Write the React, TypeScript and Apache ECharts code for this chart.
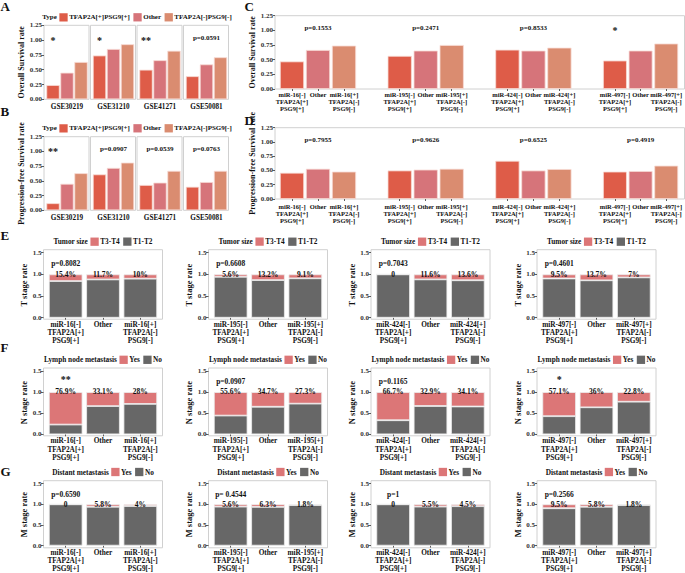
import React, { useEffect, useRef } from "react";
import * as echarts from "echarts";

const FONT = "'Liberation Serif', 'Times New Roman', Times, serif";
const INK = "#111111";
const TICK_INK = "#333333";
const FRAME = "#d0d0d0";
const TYPE_COLORS = ["#DE5C48", "#D6747A", "#DA8C70"];
const YES_COLOR = "#DC7677";
const NO_COLOR = "#676767";
const WARM_EDGE = "#f7dcd5";
const GREY_EDGE = "#ececec";

// ---- Panels A / B : GEO cohorts ----
const gseCohorts = ["GSE30219", "GSE31210", "GSE41271", "GSE50081"];
const typeNames = ["TFAP2A[+]PSG9[+]", "Other", "TFAP2A[-]PSG9[-]"];
const osGse = [
  [0.24, 0.45, 0.63],
  [0.74, 0.85, 0.93],
  [0.5, 0.66, 0.82],
  [0.39, 0.59, 0.71],
];
const pfsGse = [
  [0.12, 0.45, 0.63],
  [0.61, 0.72, 0.81],
  [0.43, 0.47, 0.67],
  [0.4, 0.48, 0.67],
];
const osGseSig = ["*", "*", "**", "p=0.0591"];
const pfsGseSig = ["**", "p=0.0907", "p=0.0539", "p=0.0763"];

// ---- Panels C / D : miRNA groups ----
const mirs = ["miR-16", "miR-195", "miR-424", "miR-497"];
const osMir = [
  [0.47, 0.665, 0.74],
  [0.565, 0.655, 0.75],
  [0.67, 0.655, 0.705],
  [0.485, 0.655, 0.775],
];
const pfsMir = [
  [0.46, 0.53, 0.48],
  [0.5, 0.515, 0.53],
  [0.67, 0.5, 0.525],
  [0.48, 0.49, 0.585],
];
const osMirSig = ["p=0.1553", "p=0.2471", "p=0.8533", "*"];
const pfsMirSig = ["p=0.7955", "p=0.9626", "p=0.6525", "p=0.4919"];

// ---- Panels E / F / G : clinical stage (percentage "Yes") ----
const tStageT3T4 = [
  [15.4, 11.7, 10],
  [5.6, 13.2, 9.1],
  [0, 11.6, 13.6],
  [9.5, 13.7, 7],
];
const nStageYes = [
  [76.9, 33.1, 28],
  [55.6, 34.7, 27.3],
  [66.7, 32.9, 34.1],
  [57.1, 36, 22.8],
];
const mStageYes = [
  [0, 5.8, 4],
  [5.6, 6.3, 1.8],
  [0, 5.5, 4.5],
  [9.5, 5.8, 1.8],
];
const tStageP = ["p=0.8082", "p=0.6608", "p=0.7043", "p=0.4601"];
const nStageP = ["**", "p=0.0907", "p=0.1165", "*"];
const mStageP = ["p=0.6590", "p= 0.4544", "p=1", "p=0.2566"];

type Any = any;

function measure(text: string, size: number): number {
  const ctx = document.createElement("canvas").getContext("2d");
  if (!ctx) return text.length * size * 0.5;
  ctx.font = `bold ${size}px ${FONT}`;
  return ctx.measureText(text).width;
}

function mirCats(m: string) {
  return [`${m}[-]\nTFAP2A[+]\nPSG9[+]`, "Other", `${m}[+]\nTFAP2A[-]\nPSG9[-]`];
}

function buildOption() {
  const grid: Any[] = [];
  const xAxis: Any[] = [];
  const yAxis: Any[] = [];
  const series: Any[] = [];
  const graphic: Any[] = [];

  const txt = (size: number, color = INK) => ({
    fontFamily: FONT,
    fontWeight: "bold",
    fontSize: size,
    color,
  });

  // label centred on its data point: placed "top" with a negative distance
  const centeredLabel = (size: number, formatter: Any) => ({
    show: true,
    position: "top",
    distance: -size / 2,
    formatter,
    ...txt(size),
    textBorderWidth: 0,
    textShadowBlur: 0,
  });

  const addGrid = (g: Any, x: Any, y: Any) => {
    grid.push({ containLabel: false, ...g });
    const i = grid.length - 1;
    xAxis.push({ gridIndex: i, ...x });
    yAxis.push({ gridIndex: i, ...y });
    return i;
  };

  const frame = (x: number, y: number, w: number, h: number) =>
    graphic.push({
      type: "rect",
      z: 0,
      silent: true,
      shape: { x, y, width: w, height: h },
      style: { fill: "none", stroke: FRAME, lineWidth: 1 },
    });

  const gText = (x: number, y: number, text: string, size: number) =>
    graphic.push({
      type: "text",
      z: 10,
      silent: true,
      x,
      y,
      style: {
        text,
        fontFamily: FONT,
        fontWeight: "bold",
        fontSize: size,
        fill: INK,
        align: "left",
        verticalAlign: "middle",
      },
    });

  const legend = (cx: number, cy: number, title: string, names: string[], colors: string[], fs: number) => {
    const sq = 8.3;
    const tw = measure(title, fs);
    const ws = names.map((n) => measure(n, fs));
    let total = tw;
    ws.forEach((w, k) => {
      total += (k === 0 ? 2.5 : 3.5) + sq + 1.5 + w;
    });
    let x = cx - total / 2;
    gText(x, cy, title, fs);
    x += tw;
    names.forEach((n, k) => {
      x += k === 0 ? 2.5 : 3.5;
      graphic.push({
        type: "rect",
        z: 10,
        silent: true,
        shape: { x, y: cy - sq / 2, width: sq, height: sq },
        style: { fill: colors[k] },
      });
      x += sq + 1.5;
      gText(x, cy, n, fs);
      x += ws[k];
    });
  };

  const yCfg = (
    show: boolean,
    max: number,
    interval: number,
    decimals: number,
    name: string,
    nameGap: number,
    offset: number,
    nameSize: number
  ) => ({
    type: "value",
    min: 0,
    max,
    interval,
    offset,
    splitLine: { show: false },
    axisLine: { show: false },
    axisTick: { show, length: 2.5, lineStyle: { color: TICK_INK, width: 0.8 } },
    axisLabel: {
      show,
      margin: 2,
      formatter: (v: number) => v.toFixed(decimals),
      ...txt(7, TICK_INK),
    },
    name: show ? name : "",
    nameLocation: "middle",
    nameGap,
    nameRotate: 90,
    nameTextStyle: txt(nameSize),
  });

  const annot = (gi: number, x: number, y: number, text: string, size: number) =>
    series.push({
      type: "scatter",
      xAxisIndex: gi,
      yAxisIndex: gi,
      data: [[x, y]],
      symbolSize: 0.1,
      itemStyle: { color: INK, opacity: 1 },
      silent: true,
      z: 6,
      label: centeredLabel(size, () => text),
    });

  // ---------- A / B ----------
  const gsePanel = (values: number[][], sigs: string[], top: number, height: number, yName: string) => {
    values.forEach((vals, i) => {
      const fx = 44 + i * 46.5;
      frame(fx, top, 45, height);
      const gi = addGrid(
        { left: fx + 2, top, width: 42, height },
        {
          type: "category",
          data: typeNames,
          axisLine: { show: false },
          axisTick: { show: false },
          axisLabel: { show: false },
          name: gseCohorts[i],
          nameLocation: "middle",
          nameGap: 4,
          nameTextStyle: txt(7.2),
        },
        yCfg(i === 0, 1.25, 0.25, 2, yName, 18, 2, 8)
      );
      series.push({
        type: "bar",
        xAxisIndex: gi,
        yAxisIndex: gi,
        barCategoryGap: "5%",
        silent: true,
        itemStyle: { borderColor: WARM_EDGE, borderWidth: 0.8 },
        data: vals.map((v, k) => ({ value: v, itemStyle: { color: TYPE_COLORS[k] } })),
      });
      const s = sigs[i];
      const isP = s.startsWith("p");
      annot(gi, isP ? 1 : 0, isP ? 1.04 : 1.0, s, isP ? 7 : 10);
    });
  };

  // ---------- C / D ----------
  const mirPanel = (
    values: number[][],
    sigs: string[],
    top: number,
    height: number,
    yName: string,
    labelMargin: number
  ) => {
    frame(275, top, 409.5, height);
    values.forEach((vals, i) => {
      const gx = 279 + i * 107.7;
      const gi = addGrid(
        { left: gx, top, width: 78, height },
        {
          type: "category",
          data: mirCats(mirs[i]),
          axisLine: { show: false },
          axisTick: { show: true, length: 2, alignWithLabel: true, lineStyle: { color: TICK_INK, width: 0.8 } },
          axisLabel: { interval: 0, margin: labelMargin, lineHeight: 6.9, ...txt(6.5) },
        },
        yCfg(i === 0, 1.25, 0.25, 2, yName, 13.5, 4, 8)
      );
      series.push({
        type: "bar",
        xAxisIndex: gi,
        yAxisIndex: gi,
        barCategoryGap: "7%",
        silent: true,
        itemStyle: { borderColor: WARM_EDGE, borderWidth: 0.8 },
        data: vals.map((v, k) => ({ value: v, itemStyle: { color: TYPE_COLORS[k] } })),
      });
      const s = sigs[i];
      const isP = s.startsWith("p");
      annot(gi, isP ? 1 : 0, isP ? 1.04 : 1.0, s, isP ? 7 : 10);
    });
  };

  // ---------- E / F / G ----------
  const frameLefts = [43.5, 208.5, 371, 537];
  const stagePanel = (
    rates: number[][],
    pvals: string[],
    top: number,
    height: number,
    yName: string,
    legendTitle: string,
    legendNames: string[],
    legendY: number
  ) => {
    rates.forEach((r, i) => {
      const fx = frameLefts[i];
      frame(fx, top - 3, 119, height + 4.5);
      legend(fx + 59.5, legendY, legendTitle, legendNames, [YES_COLOR, NO_COLOR], 7.3);
      const gi = addGrid(
        { left: fx + 3.5, top, width: 112, height },
        {
          type: "category",
          data: mirCats(mirs[i]),
          axisLine: { show: false },
          axisTick: { show: true, length: 2, alignWithLabel: true, lineStyle: { color: TICK_INK, width: 0.8 } },
          axisLabel: { interval: 0, margin: 2.5, lineHeight: 8.3, ...txt(7.3) },
        },
        yCfg(true, 1.5, 0.5, 1, yName, 10.5, 3.5, 8.5)
      );
      series.push({
        type: "bar",
        name: legendNames[1],
        stack: "s" + gi,
        xAxisIndex: gi,
        yAxisIndex: gi,
        barCategoryGap: "10%",
        silent: true,
        itemStyle: { color: NO_COLOR, borderColor: GREY_EDGE, borderWidth: 0.8 },
        data: r.map((v) => 1 - v / 100),
      });
      series.push({
        type: "bar",
        name: legendNames[0],
        stack: "s" + gi,
        xAxisIndex: gi,
        yAxisIndex: gi,
        barCategoryGap: "10%",
        silent: true,
        itemStyle: { color: YES_COLOR, borderColor: GREY_EDGE, borderWidth: 0.8 },
        data: r.map((v) => v / 100),
      });
      series.push({
        type: "scatter",
        xAxisIndex: gi,
        yAxisIndex: gi,
        data: r.map((_, k) => [k, 1.0]),
        symbolSize: 0.1,
        itemStyle: { color: INK, opacity: 1 },
        silent: true,
        z: 6,
        label: centeredLabel(7.5, (p: Any) => {
          const v = r[p.dataIndex];
          return v === 0 ? "0" : `${v}%`;
        }),
      });
      const s = pvals[i];
      const isP = s.startsWith("p");
      annot(gi, 0, isP ? 1.24 : 1.29, s, isP ? 7.5 : 10);
    });
  };

  // Legends for A / B
  legend(137, 17.3, "Type", typeNames, TYPE_COLORS, 7);
  legend(137, 128.3, "Type", typeNames, TYPE_COLORS, 7);

  gsePanel(osGse, osGseSig, 25.3, 74, "Overall Survival rate");
  gsePanel(pfsGse, pfsGseSig, 136.7, 73.6, "Progression-free Survival rate");
  mirPanel(osMir, osMirSig, 15.7, 73.3, "Overall Survival rate", 2.5);
  mirPanel(pfsMir, pfsMirSig, 127.7, 71.3, "Progression-free Survival rate", 4);

  stagePanel(tStageT3T4, tStageP, 252.7, 65, "T stage rate", "Tumor size", ["T3-T4", "T1-T2"], 241.7);
  stagePanel(nStageYes, nStageP, 371, 63.3, "N stage rate", "Lymph node metastasis", ["Yes", "No"], 359.8);
  stagePanel(mStageYes, mStageP, 483.7, 62.6, "M stage rate", "Distant metastasis", ["Yes", "No"], 472);

  // Panel letters
  gText(0.5, 6.5, "A", 13);
  gText(0.5, 111.5, "B", 13);
  gText(244.5, 6.5, "C", 13);
  gText(244.5, 120.5, "D", 13);
  gText(0.5, 235.5, "E", 13);
  gText(0.5, 347.5, "F", 13);
  gText(0.5, 471.5, "G", 13);

  return {
    animation: false,
    backgroundColor: "#ffffff",
    textStyle: { fontFamily: FONT },
    grid,
    xAxis,
    yAxis,
    series,
    graphic,
  };
}

export default function App() {
  const ref = useRef<HTMLDivElement>(null);
  useEffect(() => {
    if (!ref.current) return;
    const chart = echarts.init(ref.current, undefined, { renderer: "svg" });
    chart.setOption(buildOption());
    return () => {
      chart.dispose();
    };
  }, []);
  return (
    <div
      ref={ref}
      style={{ position: "absolute", left: 0, top: 0, width: 685, height: 573, background: "#fff" }}
    />
  );
}
